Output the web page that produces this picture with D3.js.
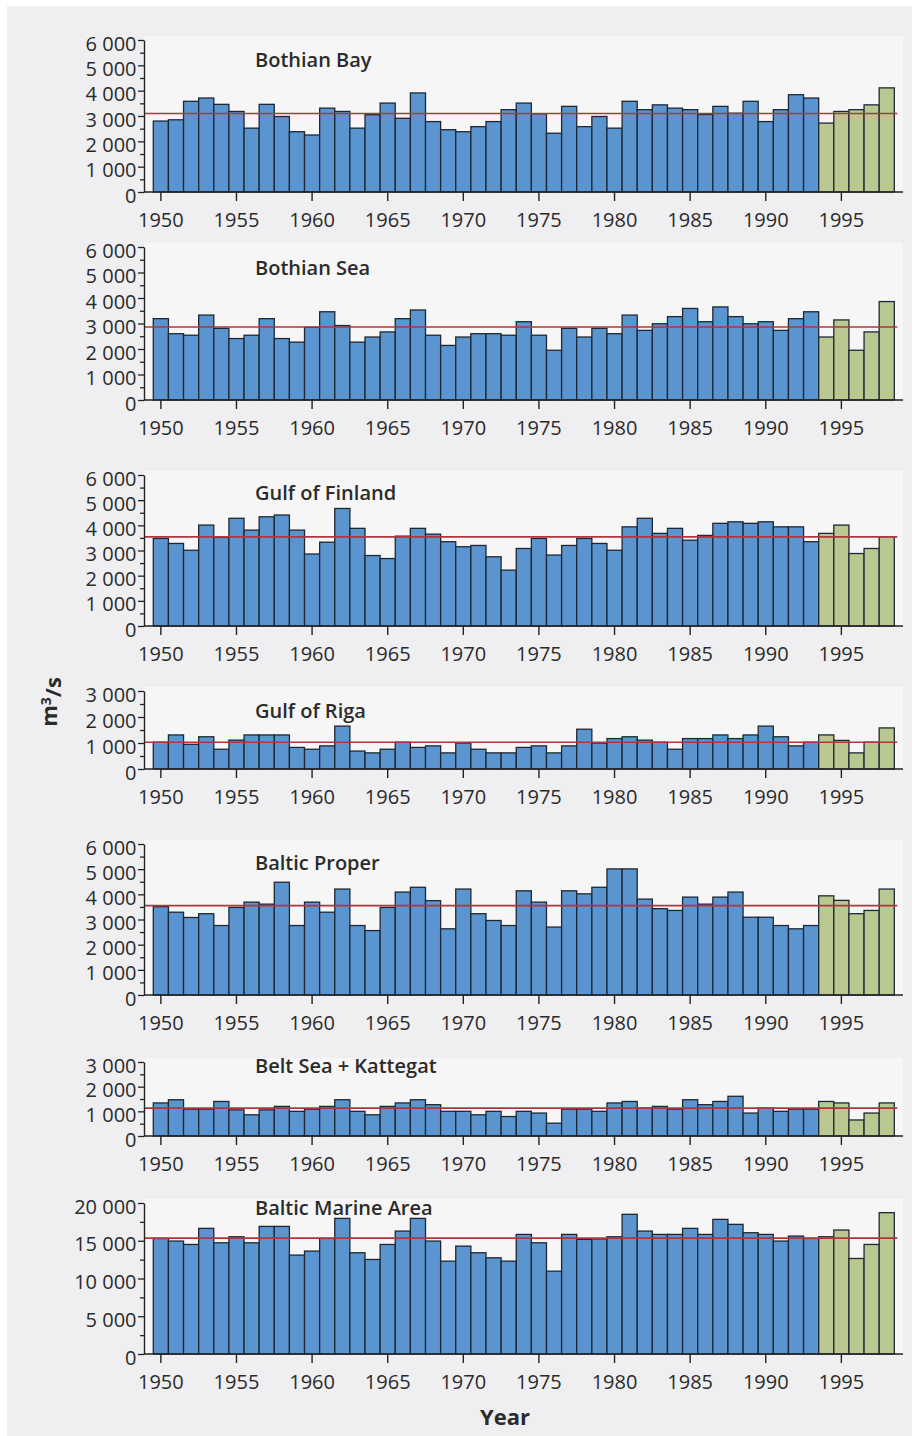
<!DOCTYPE html>
<html>
<head>
<meta charset="utf-8">
<script src="https://cdn.jsdelivr.net/npm/d3@7"></script>
<style>
  html, body { margin: 0; padding: 0; background: #ffffff; }
  svg { display: block; }
  text { font-family: "Open Sans", "Liberation Sans", Arial, sans-serif; fill: #2b2b2b; }
</style>
</head>
<body>
<script>
// Annual mean river runoff (m³/s) into the Baltic sub-basins, 1950–1998.
const years = d3.range(1950, 1999);
const firstRecentYear = 1994;
const xTickYears = [1950, 1955, 1960, 1965, 1970, 1975, 1980, 1985, 1990, 1995];

const basinNames = [
  "Bothian Bay", "Bothian Sea", "Gulf of Finland", "Gulf of Riga",
  "Baltic Proper", "Belt Sea + Kattegat", "Baltic Marine Area"
];

const bothianBay = [
  2800, 2850, 3580, 3710, 3460, 3180, 2520, 3460, 2980, 2380,
  2250, 3310, 3180, 2520, 3050, 3510, 2910, 3910, 2780, 2460,
  2380, 2580, 2780, 3250, 3510, 3090, 2320, 3380, 2580, 2980,
  2520, 3580, 3250, 3440, 3310, 3250, 3060, 3380, 3110, 3580,
  2780, 3250, 3840, 3710, 2720, 3180, 3250, 3440, 4110
];
const bothianSea = [
  3190, 2600, 2540, 3330, 2810, 2410, 2540, 3190, 2410, 2270,
  2850, 3460, 2920, 2270, 2470, 2670, 3190, 3530, 2540, 2140,
  2470, 2600, 2600, 2540, 3070, 2540, 1950, 2810, 2470, 2810,
  2600, 3330, 2730, 2990, 3270, 3590, 3070, 3650, 3270, 2990,
  3070, 2730, 3190, 3460, 2470, 3140, 1950, 2670, 3860
];
const gulfOfFinland = [
  3480, 3280, 3010, 4010, 3520, 4280, 3810, 4340, 4410, 3810,
  2860, 3330, 4670, 3880, 2800, 2680, 3570, 3880, 3650, 3350,
  3150, 3200, 2750, 2220, 3080, 3480, 2820, 3200, 3480, 3280,
  3010, 3940, 4280, 3680, 3880, 3410, 3600, 4080, 4140, 4080,
  4140, 3940, 3940, 3350, 3680, 4010, 2880, 3080, 3550
];
const gulfOfRiga = [
  1030, 1310, 950, 1240, 760, 1110, 1310, 1310, 1310, 830,
  760, 890, 1650, 690, 620, 760, 1030, 830, 890, 620,
  1000, 760, 620, 620, 830, 890, 620, 890, 1530, 1000,
  1170, 1240, 1110, 1030, 760, 1170, 1170, 1310, 1170, 1310,
  1650, 1240, 890, 1030, 1310, 1100, 620, 1030, 1580
];
const balticProper = [
  3510, 3290, 3080, 3230, 2760, 3480, 3690, 3610, 4480, 2760,
  3690, 3290, 4210, 2760, 2560, 3480, 4090, 4280, 3750, 2630,
  4210, 3230, 2960, 2760, 4140, 3690, 2700, 4140, 4020, 4280,
  5010, 5010, 3810, 3430, 3360, 3890, 3610, 3890, 4090, 3090,
  3090, 2760, 2630, 2760, 3940, 3760, 3230, 3360, 4210
];
const beltSeaKattegat = [
  1340, 1470, 1090, 1090, 1400, 1060, 860, 1060, 1200, 1000,
  1090, 1200, 1470, 1000, 860, 1200, 1340, 1470, 1270, 1000,
  1000, 860, 1000, 790, 1000, 930, 520, 1090, 1090, 1000,
  1340, 1400, 1130, 1200, 1090, 1470, 1270, 1400, 1610, 930,
  1130, 1000, 1090, 1090, 1400, 1340, 650, 930, 1340
];
const balticMarineArea = [
  15300, 14960, 14510, 16640, 14730, 15530, 14730, 16900, 16900, 13100,
  13630, 15310, 17960, 13410, 12520, 14510, 16280, 17960, 14960, 12300,
  14290, 13410, 12740, 12300, 15840, 14730, 10970, 15840, 15180, 15250,
  15530, 18500, 16280, 15840, 15840, 16640, 15840, 17830, 17170, 16060,
  15840, 14960, 15620, 15310, 15530, 16420, 12650, 14510, 18720
];

const basinSeries = [
  bothianBay, bothianSea, gulfOfFinland, gulfOfRiga,
  balticProper, beltSeaKattegat, balticMarineArea
];
const longTermMeans = [3100, 2860, 3540, 1030, 3550, 1130, 15350];
const yMaxima = [6000, 6000, 6000, 3000, 6000, 3000, 20000];
const yMajorSteps = [1000, 1000, 1000, 1000, 1000, 1000, 5000];

// Page geometry for each stacked panel
const panelLayout = [
  { top: 40,   zero: 192,  titleY: 67 },
  { top: 247,  zero: 400,  titleY: 275 },
  { top: 475,  zero: 626,  titleY: 500 },
  { top: 691,  zero: 769,  titleY: 718 },
  { top: 844,  zero: 995,  titleY: 870 },
  { top: 1062, zero: 1136, titleY: 1073 },
  { top: 1203, zero: 1354, titleY: 1215 }
];

const W = 921, H = 1436;
const axisX = 144, axisEndX = 903;
const blue = "#5a95cf", green = "#b9c891", barStroke = "#1e2834", meanColor = "#b3343c";

const fmt = d3.formatLocale({ decimal: ".", thousands: " ", grouping: [3], currency: ["", ""] }).format(",");

const svg = d3.select("body").append("svg").attr("width", W).attr("height", H);
svg.append("rect").attr("width", W).attr("height", H).attr("fill", "#ffffff");
svg.append("rect").attr("x", 7).attr("y", 6).attr("width", 905).attr("height", H - 6).attr("fill", "#efeff1");

const x = d3.scaleBand().domain(years).range([153.3, 894.3]).padding(0);

basinSeries.forEach((series, i) => {
  const L = panelLayout[i];
  const y = d3.scaleLinear().domain([0, yMaxima[i]]).range([L.zero, L.top]);
  const g = svg.append("g");

  // soft plot-area backdrop
  g.append("rect")
    .attr("x", axisX).attr("y", L.top - 4)
    .attr("width", axisEndX - axisX).attr("height", L.zero - L.top + 4)
    .attr("fill", "#f6f6f6");

  g.selectAll("rect.bar").data(series).join("rect")
    .attr("class", "bar")
    .attr("x", (d, j) => x(years[j]))
    .attr("y", d => y(d))
    .attr("width", x.bandwidth())
    .attr("height", d => y(0) - y(d))
    .attr("fill", (d, j) => years[j] >= firstRecentYear ? green : blue)
    .attr("stroke", barStroke)
    .attr("stroke-width", 1.3);

  // long-term mean
  g.append("line")
    .attr("x1", axisX).attr("x2", x(years[years.length - 1]) + x.bandwidth() + 3)
    .attr("y1", y(longTermMeans[i])).attr("y2", y(longTermMeans[i]))
    .attr("stroke", meanColor).attr("stroke-width", 1.6);

  // y axis: major and minor ticks
  const step = yMajorSteps[i];
  const yAxis = g.append("g").attr("transform", `translate(${axisX},0)`)
    .call(d3.axisLeft(y).tickValues(d3.range(0, yMaxima[i] + 1, step))
      .tickSize(6).tickSizeOuter(0).tickPadding(1.5).tickFormat(fmt));
  yAxis.select(".domain").attr("stroke", "#222").attr("stroke-width", 1.4);
  yAxis.selectAll(".tick line").attr("stroke", "#222").attr("stroke-width", 1.3);
  yAxis.selectAll("text").attr("font-size", 20).attr("dy", "0.5em").attr("fill", "#2b2b2b");

  const minorVals = d3.range(step / 2, yMaxima[i], step);
  const yMinor = g.append("g").attr("transform", `translate(${axisX},0)`)
    .call(d3.axisLeft(y).tickValues(minorVals).tickSize(4).tickSizeOuter(0).tickFormat(""));
  yMinor.select(".domain").remove();
  yMinor.selectAll(".tick line").attr("stroke", "#222").attr("stroke-width", 1.3);

  // x axis
  const xAxis = g.append("g").attr("transform", `translate(0,${L.zero})`)
    .call(d3.axisBottom(x).tickValues(xTickYears).tickSize(9).tickSizeOuter(0).tickPadding(12));
  xAxis.select(".domain").remove();
  xAxis.selectAll(".tick line").attr("stroke", "#222").attr("stroke-width", 1.4);
  xAxis.selectAll("text").attr("font-size", 20).attr("fill", "#2b2b2b");
  g.append("line")
    .attr("x1", axisX).attr("x2", axisEndX)
    .attr("y1", L.zero).attr("y2", L.zero)
    .attr("stroke", "#222").attr("stroke-width", 1.5);

  g.append("text")
    .attr("x", 255).attr("y", L.titleY)
    .attr("font-size", 20).attr("font-weight", 600)
    .text(basinNames[i]);
});

// axis titles
const yLabel = svg.append("text")
  .attr("transform", "translate(57,702) rotate(-90)")
  .attr("text-anchor", "middle")
  .attr("font-size", 22).attr("font-weight", 700);
yLabel.append("tspan").text("m");
yLabel.append("tspan").attr("dy", "-0.45em").attr("font-size", 14).text("3");
yLabel.append("tspan").attr("dy", "0.45em").text("/s");

svg.append("text")
  .attr("x", 505).attr("y", 1425)
  .attr("text-anchor", "middle")
  .attr("font-size", 22).attr("font-weight", 700)
  .text("Year");
</script>
</body>
</html>
